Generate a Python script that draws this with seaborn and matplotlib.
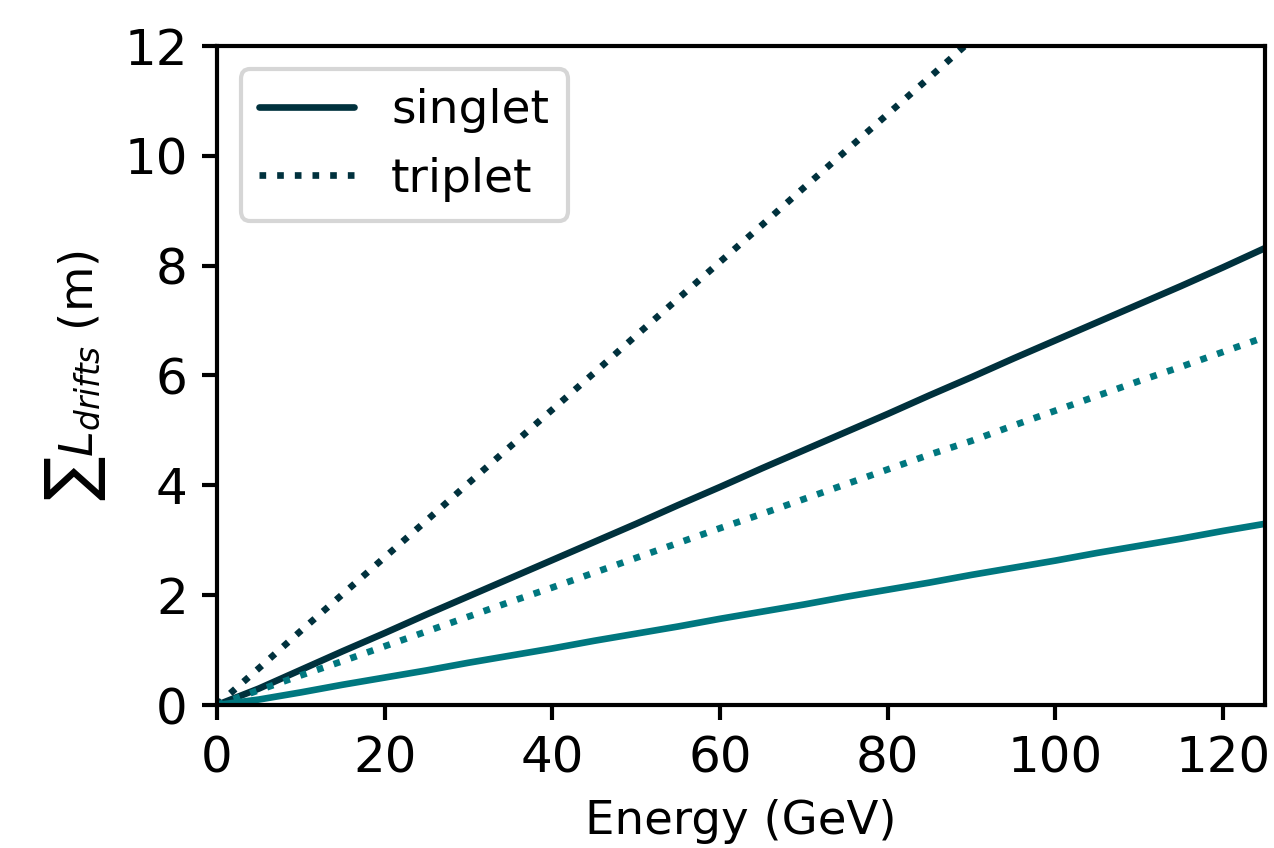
import numpy as np
import pandas as pd
import matplotlib
matplotlib.use("Agg")
import matplotlib.pyplot as plt
import seaborn as sns

# Energy grid (GeV)
energy = [0, 5, 10, 15, 20, 25, 30, 35, 40, 45, 50, 55, 60,
          65, 70, 75, 80, 85, 90, 95, 100, 105, 110, 115, 120, 125]

# summed drift lengths (m)
singlet_dark = [0.00, 0.30, 0.64, 0.98, 1.31, 1.65, 1.98, 2.31, 2.64, 2.97, 3.30, 3.64, 3.97,
                4.31, 4.64, 4.97, 5.30, 5.64, 5.97, 6.31, 6.64, 6.97, 7.30, 7.63, 7.97, 8.32]
singlet_teal = [0.00, 0.10, 0.23, 0.37, 0.50, 0.63, 0.77, 0.90, 1.03, 1.17, 1.30, 1.43, 1.57,
                1.70, 1.83, 1.97, 2.10, 2.23, 2.37, 2.50, 2.63, 2.77, 2.90, 3.03, 3.17, 3.30]
triplet_dark = [0.00, 0.67, 1.35, 2.02, 2.69, 3.36, 4.04, 4.71, 5.38, 6.05, 6.73, 7.40, 8.07,
                8.74, 9.42, 10.09, 10.76, 11.43, 12.11, 12.78, 13.45, 14.12, 14.80, 15.47, 16.14, 16.81]
triplet_teal = [0.00, 0.27, 0.54, 0.80, 1.07, 1.34, 1.61, 1.88, 2.14, 2.41, 2.68, 2.95, 3.22,
                3.48, 3.75, 4.02, 4.29, 4.56, 4.81, 5.09, 5.36, 5.63, 5.90, 6.16, 6.43, 6.70]

dark = "#00313d"
teal = "#00777f"

sns.set_style("ticks")
plt.rcParams.update({
    "font.family": ["DejaVu Sans"],
    "text.color": "black",
    "axes.labelcolor": "black",
    "axes.edgecolor": "black",
    "xtick.color": "black",
    "ytick.color": "black",
    "axes.linewidth": 1.0,
})

fig = plt.figure(figsize=(4.2467, 2.8267), dpi=300)
ax = fig.add_axes([0.1703, 0.1686, 0.8227, 0.7772])

sns.lineplot(x=energy, y=singlet_dark, color=dark, linewidth=1.6, label="singlet", ax=ax)
sns.lineplot(x=energy, y=triplet_dark, color=dark, linewidth=1.6, linestyle=":", label="triplet", ax=ax)
sns.lineplot(x=energy, y=singlet_teal, color=teal, linewidth=1.6, ax=ax)
sns.lineplot(x=energy, y=triplet_teal, color=teal, linewidth=1.6, linestyle=":", ax=ax)

ax.set_xlim(0, 125)
ax.set_ylim(0, 12)
ax.set_xticks([0, 20, 40, 60, 80, 100, 120])
ax.set_yticks([0, 2, 4, 6, 8, 10, 12])
ax.tick_params(labelsize=12, direction="out", length=3.5, width=1.0)

ax.set_xlabel("Energy (GeV)", fontsize=11.2)
ax.set_ylabel(r"$\sum L_{drifts}$ (m)", fontsize=11.2)

ax.legend(loc="upper left", fontsize=11.3, frameon=True, fancybox=True,
          edgecolor="0.8", framealpha=0.8)

fig.savefig("out.png", dpi=300)
